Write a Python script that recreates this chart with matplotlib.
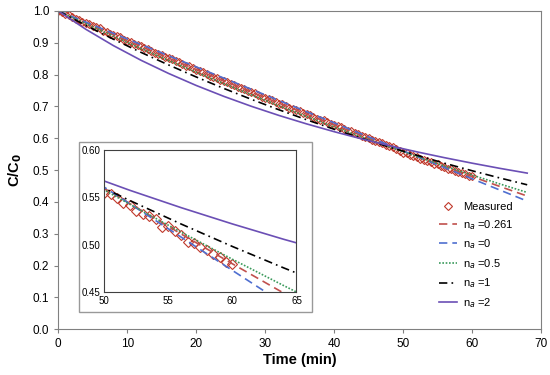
import matplotlib
matplotlib.use('Agg')
import matplotlib.pyplot as plt
from matplotlib.patches import Rectangle

plt.rcParams['font.family'] = ['Liberation Sans', 'DejaVu Sans']

# Measured concentration ratio, every 0.5 min
t_meas = [i * 0.5 for i in range(121)]
c_meas = [1.000, 0.997, 0.990, 0.987, 0.982, 0.975, 0.973, 0.966, 0.961, 0.958,
          0.952, 0.949, 0.945, 0.938, 0.935, 0.929, 0.924, 0.921, 0.917, 0.910,
          0.906, 0.903, 0.897, 0.894, 0.889, 0.883, 0.880, 0.874, 0.869, 0.866,
          0.862, 0.855, 0.852, 0.848, 0.842, 0.839, 0.835, 0.828, 0.826, 0.820,
          0.815, 0.812, 0.808, 0.801, 0.797, 0.794, 0.790, 0.784, 0.779, 0.776,
          0.772, 0.766, 0.762, 0.759, 0.755, 0.748, 0.744, 0.741, 0.737, 0.731,
          0.727, 0.724, 0.720, 0.713, 0.709, 0.707, 0.703, 0.696, 0.692, 0.690,
          0.686, 0.679, 0.675, 0.672, 0.668, 0.662, 0.658, 0.656, 0.652, 0.645,
          0.641, 0.639, 0.635, 0.628, 0.624, 0.622, 0.618, 0.612, 0.608, 0.605,
          0.601, 0.595, 0.591, 0.589, 0.585, 0.578, 0.575, 0.572, 0.567, 0.561,
          0.555, 0.553, 0.549, 0.544, 0.542, 0.536, 0.532, 0.530, 0.527, 0.519,
          0.520, 0.514, 0.510, 0.503, 0.502, 0.498, 0.494, 0.490, 0.487, 0.482,
          0.480]

# model curves
t_mod = [0, 4, 8, 12, 16, 20, 24, 28, 32, 36, 40, 44, 48, 52, 56, 60, 64, 68]
c_0261 = [1.0, 0.9624, 0.9252, 0.8884, 0.8519, 0.8159, 0.7803, 0.7451, 0.7103,
          0.6760, 0.6421, 0.6087, 0.5757, 0.5433, 0.5113, 0.4798, 0.4489, 0.4185]
c_0 = [1.0, 0.9649, 0.9297, 0.8946, 0.8594, 0.8243, 0.7891, 0.7540, 0.7188,
       0.6837, 0.6486, 0.6134, 0.5783, 0.5431, 0.5080, 0.4728, 0.4377, 0.4026]
c_05 = [1.0, 0.9599, 0.9206, 0.8821, 0.8445, 0.8077, 0.7717, 0.7365, 0.7021,
        0.6686, 0.6358, 0.6039, 0.5729, 0.5426, 0.5132, 0.4846, 0.4568, 0.4298]
c_1 = [1.0, 0.9546, 0.9113, 0.8699, 0.8304, 0.7927, 0.7567, 0.7224, 0.6896,
       0.6583, 0.6284, 0.5999, 0.5726, 0.5466, 0.5218, 0.4981, 0.4755, 0.4539]
c_2 = [1.0, 0.9424, 0.8911, 0.8451, 0.8037, 0.7660, 0.7318, 0.7005, 0.6718,
       0.6453, 0.6208, 0.5981, 0.5770, 0.5574, 0.5391, 0.5219, 0.5057, 0.4906]

col_meas = '#C0392B'
col_0261 = '#C0504D'
col_0 = '#4F6FD0'
col_05 = '#3A9A5B'
col_1 = 'black'
col_2 = '#6B4FB5'
spine_col = '#808080'


def draw(ax, ms, lw):
    ax.plot(t_meas, c_meas, linestyle='none', marker='D', markersize=ms,
            markerfacecolor='none', markeredgecolor=col_meas, markeredgewidth=0.8,
            label='Measured')
    ax.plot(t_mod, c_0261, linestyle=(0, (5, 3)), color=col_0261, lw=lw, label=r'n$_a$ =0.261')
    ax.plot(t_mod, c_0, linestyle=(0, (5, 3)), color=col_0, lw=lw, label=r'n$_a$ =0')
    ax.plot(t_mod, c_05, linestyle=(0, (1, 1)), color=col_05, lw=lw, label=r'n$_a$ =0.5')
    ax.plot(t_mod, c_1, linestyle=(0, (5, 2.5, 1, 2.5)), color=col_1, lw=lw, label=r'n$_a$ =1')
    ax.plot(t_mod, c_2, linestyle='-', color=col_2, lw=lw, label=r'n$_a$ =2')


fig = plt.figure(figsize=(5.5, 3.75), dpi=100)
ax = fig.add_axes([0.106, 0.122, 0.8776, 0.8487])
draw(ax, 4.3, 1.2)
ax.set_xlim(0, 70)
ax.set_ylim(0, 1.0)
ax.set_xticks(range(0, 71, 10))
ax.set_yticks([i / 10 for i in range(11)])
ax.set_yticklabels(['%.1f' % (i / 10) for i in range(11)])
for s in ax.spines.values():
    s.set_color(spine_col)
ax.tick_params(colors=spine_col, labelcolor='black', labelsize=8.5, length=3)
ax.set_xlabel('Time (min)', fontsize=10.5, fontweight='bold', labelpad=2)
ax.set_ylabel('C/C$_\\mathbf{0}$', fontsize=10.5, fontweight='bold', labelpad=6)
ax.legend(loc='upper left', bbox_to_anchor=(439 / 550, 1 - 202 / 375),
          bbox_transform=fig.transFigure, borderaxespad=0, borderpad=0,
          frameon=False, fontsize=8, handlelength=1.6, labelspacing=0.52,
          handletextpad=0.6)

# inset frame
fig.patches.append(Rectangle((0.1436, 0.168), 0.4234, 0.453, transform=fig.transFigure,
                             facecolor='white', edgecolor='#999999', lw=1.0, zorder=2))
axi = fig.add_axes([0.1896, 0.2213, 0.3494, 0.3787], zorder=3)
draw(axi, 5, 1.2)
axi.set_xlim(50, 65)
axi.set_ylim(0.45, 0.60)
axi.set_xticks([50, 55, 60, 65])
axi.set_yticks([0.45, 0.50, 0.55, 0.60])
axi.set_yticklabels(['0.45', '0.50', '0.55', '0.60'])
for s in axi.spines.values():
    s.set_color('#404040')
axi.tick_params(colors='#404040', labelcolor='black', labelsize=7, length=0, pad=3)

plt.savefig('out.png', dpi=100)
